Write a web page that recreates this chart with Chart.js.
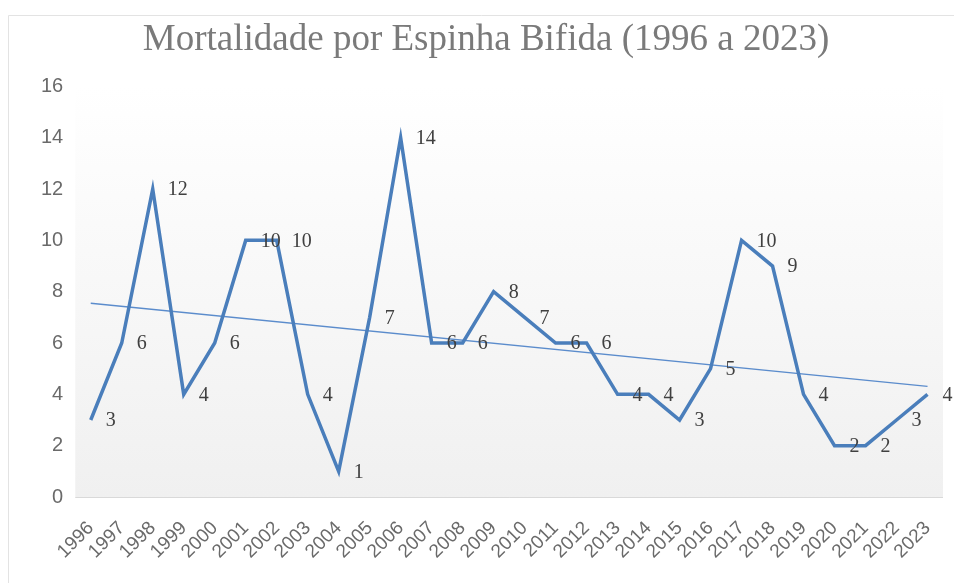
<!DOCTYPE html>
<html lang="pt">
<head>
  <meta charset="UTF-8">
  <title>Mortalidade por Espinha Bifida</title>
  <script src="https://cdn.jsdelivr.net/npm/chart.js"></script>
  <style>
    html, body { margin: 0; padding: 0; background: #fff; }
    #wrap { width: 954px; height: 583px; }
  </style>
</head>
<body>
<div id="wrap"><canvas id="chart"></canvas></div>
<script>
  // Data
  const years = ['1996','1997','1998','1999','2000','2001','2002','2003','2004','2005',
                 '2006','2007','2008','2009','2010','2011','2012','2013','2014','2015',
                 '2016','2017','2018','2019','2020','2021','2022','2023'];
  const deaths = [3, 6, 12, 4, 6, 10, 10, 4, 1, 7, 14, 6, 6, 8, 7, 6, 6, 4, 4, 3, 5, 10, 9, 4, 2, 2, 3, 4];
  // linear trend line, ends
  const trendStart = 7.55;
  const trendEnd = 4.31;
  const yTicks = [0, 2, 4, 6, 8, 10, 12, 14, 16];

  const trend = years.map((y, i) => i === 0 ? trendStart : (i === years.length - 1 ? trendEnd : null));

  // Plot area gradient + frame
  const backdrop = {
    id: 'backdrop',
    beforeDraw(chart) {
      const { ctx, chartArea: a } = chart;
      ctx.save();
      ctx.strokeStyle = '#e3e3e3';
      ctx.lineWidth = 1;
      ctx.beginPath();
      ctx.moveTo(8.5, 583);
      ctx.lineTo(8.5, 15.5);
      ctx.lineTo(954, 15.5);
      ctx.stroke();
      const g = ctx.createLinearGradient(0, a.top, 0, a.bottom);
      g.addColorStop(0, '#ffffff');
      g.addColorStop(1, '#f0f0f0');
      ctx.fillStyle = g;
      ctx.fillRect(a.left, a.top, a.right - a.left, a.bottom - a.top);
      ctx.strokeStyle = '#d9d9d9';
      ctx.beginPath();
      ctx.moveTo(a.left, Math.round(a.bottom) + 0.5);
      ctx.lineTo(a.right, Math.round(a.bottom) + 0.5);
      ctx.stroke();
      ctx.restore();
    }
  };

  // Value labels to the right of each point
  const valueLabels = {
    id: 'valueLabels',
    afterDatasetsDraw(chart) {
      const { ctx } = chart;
      const meta = chart.getDatasetMeta(0);
      ctx.save();
      ctx.font = '20px "Liberation Serif", serif';
      ctx.fillStyle = '#404040';
      ctx.textAlign = 'left';
      ctx.textBaseline = 'middle';
      meta.data.forEach((pt, i) => {
        ctx.fillText(String(deaths[i]), pt.x + 15, pt.y + 1);
      });
      ctx.restore();
    }
  };

  new Chart(document.getElementById('chart'), {
    type: 'line',
    data: {
      labels: years,
      datasets: [
        {
          label: 'Óbitos',
          data: deaths,
          borderColor: '#4a7ebb',
          borderWidth: 3.5,
          pointRadius: 0,
          tension: 0,
          fill: false
        },
        {
          label: 'Linear',
          data: trend,
          spanGaps: true,
          borderColor: '#5b8ccc',
          borderWidth: 1.3,
          pointRadius: 0,
          fill: false
        }
      ]
    },
    options: {
      responsive: true,
      maintainAspectRatio: false,
      animation: false,
      layout: { padding: { left: 29, right: 11, top: 0, bottom: 0 } },
      plugins: {
        legend: { display: false },
        tooltip: { enabled: false },
        title: {
          display: true,
          text: 'Mortalidade por Espinha Bifida (1996 a 2023)',
          color: '#7a7a7a',
          font: { family: '"Liberation Serif", serif', size: 37, weight: 'normal' },
          padding: { top: 18, bottom: 24 }
        }
      },
      scales: {
        x: {
          offset: true,
          afterFit(scale) { scale.paddingRight = 0; },
          grid: { display: false, drawTicks: false },
          border: { display: false },
          ticks: {
            color: '#6a6a6a',
            font: { family: '"Liberation Sans", sans-serif', size: 19 },
            maxRotation: 45,
            minRotation: 45,
            autoSkip: false,
            padding: 20
          }
        },
        y: {
          min: 0,
          max: 16,
          afterBuildTicks(scale) { scale.ticks = yTicks.map(v => ({ value: v })); },
          grid: { display: false, drawTicks: false },
          border: { display: false },
          ticks: {
            color: '#6a6a6a',
            font: { family: '"Liberation Sans", sans-serif', size: 20 },
            padding: 12
          }
        }
      }
    },
    plugins: [backdrop, valueLabels]
  });
</script>
</body>
</html>
